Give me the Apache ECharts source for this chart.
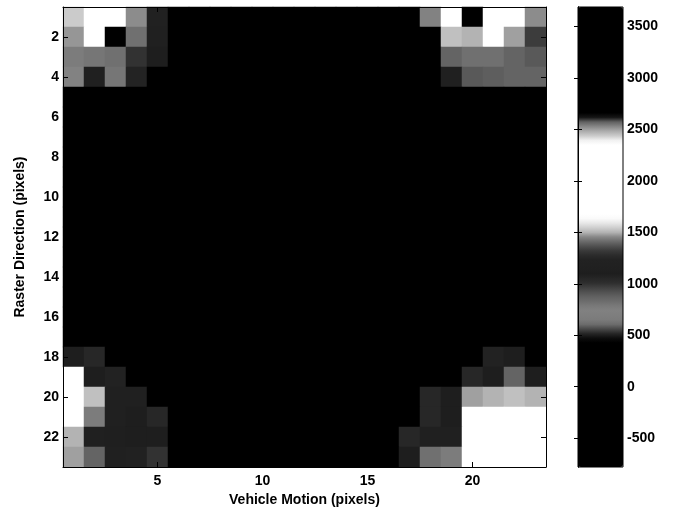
<!DOCTYPE html>
<html>
<head>
<meta charset="utf-8">
<script src="https://cdn.jsdelivr.net/npm/echarts@6/dist/echarts.min.js"></script>
<style>html,body{margin:0;padding:0;background:#fff}#c{width:678px;height:520px}</style>
</head>
<body>
<div id="c"></div>
<script>
// Categories (pixel indices)
const xCategories = ['1','2','3','4','5','6','7','8','9','10','11','12','13','14','15','16','17','18','19','20','21','22','23'];
const yCategories = ['1','2','3','4','5','6','7','8','9','10','11','12','13','14','15','16','17','18','19','20','21','22','23'];
// Colorbar ticks
const colorbarTicks = [-500, 0, 500, 1000, 1500, 2000, 2500, 3000, 3500];
const colorMin = -780;
const colorMax = 3690;
// Values, one row per raster row (row 1 at top), 23 columns each
const row1  = [1540,2000,2000,1460,1200,0,0,0,0,0,0,0,0,0,0,0,0,1450,2000,3200,2000,2000,1460];
const row2  = [1470,2000,3200,1420,1150,0,0,0,0,0,0,0,0,0,0,0,0,0,1520,1500,2000,1480,1330];
const row3  = [1440,1430,1420,1300,1100,0,0,0,0,0,0,0,0,0,0,0,0,0,1400,1420,1420,1400,1380];
const row4  = [1450,1150,1430,1250,0,0,0,0,0,0,0,0,0,0,0,0,0,0,1150,1380,1390,1400,1400];
const row5  = [0,0,0,0,0,0,0,0,0,0,0,0,0,0,0,0,0,0,0,0,0,0,0];
const row6  = [0,0,0,0,0,0,0,0,0,0,0,0,0,0,0,0,0,0,0,0,0,0,0];
const row7  = [0,0,0,0,0,0,0,0,0,0,0,0,0,0,0,0,0,0,0,0,0,0,0];
const row8  = [0,0,0,0,0,0,0,0,0,0,0,0,0,0,0,0,0,0,0,0,0,0,0];
const row9  = [0,0,0,0,0,0,0,0,0,0,0,0,0,0,0,0,0,0,0,0,0,0,0];
const row10 = [0,0,0,0,0,0,0,0,0,0,0,0,0,0,0,0,0,0,0,0,0,0,0];
const row11 = [0,0,0,0,0,0,0,0,0,0,0,0,0,0,0,0,0,0,0,0,0,0,0];
const row12 = [0,0,0,0,0,0,0,0,0,0,0,0,0,0,0,0,0,0,0,0,0,0,0];
const row13 = [0,0,0,0,0,0,0,0,0,0,0,0,0,0,0,0,0,0,0,0,0,0,0];
const row14 = [0,0,0,0,0,0,0,0,0,0,0,0,0,0,0,0,0,0,0,0,0,0,0];
const row15 = [0,0,0,0,0,0,0,0,0,0,0,0,0,0,0,0,0,0,0,0,0,0,0];
const row16 = [0,0,0,0,0,0,0,0,0,0,0,0,0,0,0,0,0,0,0,0,0,0,0];
const row17 = [0,0,0,0,0,0,0,0,0,0,0,0,0,0,0,0,0,0,0,0,0,0,0];
const row18 = [1100,1050,0,0,0,0,0,0,0,0,0,0,0,0,0,0,0,0,0,0,1080,1100,0];
const row19 = [2000,1100,1080,0,0,0,0,0,0,0,0,0,0,0,0,0,0,0,0,1050,1100,1400,1100];
const row20 = [2000,1520,1150,1150,0,0,0,0,0,0,0,0,0,0,0,0,0,1050,1100,1480,1500,1520,1500];
const row21 = [2000,1440,1150,1100,1050,0,0,0,0,0,0,0,0,0,0,0,0,1050,1100,2000,2000,2000,2000];
const row22 = [1500,1150,1120,1100,1100,0,0,0,0,0,0,0,0,0,0,0,1050,1150,1150,2000,2000,2000,2000];
const row23 = [1480,1400,1150,1200,1300,0,0,0,0,0,0,0,0,0,0,0,1100,1420,1440,2000,2000,2000,2000];
const rows = [row1,row2,row3,row4,row5,row6,row7,row8,row9,row10,row11,row12,row13,row14,row15,row16,row17,row18,row19,row20,row21,row22,row23];

// Grayscale colormap stops (value -> gray level)
const cmapStops = [[-780,0],[450,0],[520,40],[620,120],[750,130],[900,90],[1010,45],[1100,30],[1250,35],[1330,60],[1400,100],[1450,130],[1500,180],[1560,215],[1626,250],[1680,255],[2380,255],[2420,215],[2500,160],[2580,90],[2617,20],[2660,0],[3690,0]];

function grayAt(v) {
  for (let i = 0; i < cmapStops.length - 1; i++) {
    const a = cmapStops[i], b = cmapStops[i + 1];
    if (v >= a[0] && v <= b[0]) {
      const t = (v - a[0]) / (b[0] - a[0]);
      return Math.round(a[1] + t * (b[1] - a[1]));
    }
  }
  return 0;
}
const N = 600;
const cmapColors = [];
for (let i = 0; i < N; i++) {
  const v = colorMin + i * (colorMax - colorMin) / (N - 1);
  const g = grayAt(v);
  cmapColors.push('rgb(' + g + ',' + g + ',' + g + ')');
}

const data = [];
rows.forEach((r, yi) => r.forEach((v, xi) => data.push([xi, yi, v])));

const font = { fontFamily: 'Liberation Sans, Arial, sans-serif', fontWeight: 'bold', fontSize: 14, color: '#000' };
const xShow = (idx) => (idx + 1) % 5 === 0;
const yShow = (idx) => (idx + 1) % 2 === 0;

const chart = echarts.init(document.getElementById('c'), null, { renderer: 'canvas' });
chart.setOption({
  animation: false,
  backgroundColor: '#fff',
  grid: [
    { left: 63, top: 7, width: 483, height: 460, show: true, backgroundColor: '#000', borderWidth: 0 },
    { left: 578, top: 7, width: 45, height: 460, show: true, borderColor: '#000', borderWidth: 1, backgroundColor: 'transparent', z: 10 }
  ],
  xAxis: [
    { type: 'category', gridIndex: 0, data: xCategories, position: 'bottom', z: 10,
      axisLine: { show: true, lineStyle: { color: '#000', width: 1 } },
      axisTick: { show: true, inside: true, length: 5, alignWithLabel: true, interval: xShow, lineStyle: { color: '#000' } },
      axisLabel: Object.assign({ interval: xShow, margin: 7 }, font),
      splitLine: { show: false },
      name: 'Vehicle Motion (pixels)', nameLocation: 'middle', nameGap: 26, nameTextStyle: font },
    { type: 'category', gridIndex: 0, data: xCategories, position: 'top', z: 10,
      axisLine: { show: true, lineStyle: { color: '#000', width: 1 } },
      axisTick: { show: true, inside: true, length: 5, alignWithLabel: true, interval: xShow, lineStyle: { color: '#000' } },
      axisLabel: { show: false }, splitLine: { show: false } },
    { type: 'value', gridIndex: 1, show: false, min: 0, max: 1 }
  ],
  yAxis: [
    { type: 'category', gridIndex: 0, data: yCategories, inverse: true, position: 'left', z: 10,
      axisLine: { show: true, lineStyle: { color: '#000', width: 1 } },
      axisTick: { show: true, inside: true, length: 5, alignWithLabel: true, interval: yShow, lineStyle: { color: '#000' } },
      axisLabel: Object.assign({ interval: yShow, margin: 4 }, font),
      splitLine: { show: false },
      name: 'Raster Direction (pixels)', nameLocation: 'middle', nameGap: 36, nameRotate: 90, nameTextStyle: font },
    { type: 'category', gridIndex: 0, data: yCategories, inverse: true, position: 'right', z: 10,
      axisLine: { show: true, lineStyle: { color: '#000', width: 1 } },
      axisTick: { show: true, inside: true, length: 5, alignWithLabel: true, interval: yShow, lineStyle: { color: '#000' } },
      axisLabel: { show: false }, splitLine: { show: false } },
    { type: 'value', gridIndex: 1, min: colorMin, max: colorMax, position: 'right', z: 11,
      axisLine: { show: true, lineStyle: { color: '#000', width: 1 } },
      axisTick: { show: true, inside: true, length: 4, customValues: colorbarTicks, lineStyle: { color: '#000' } },
      axisLabel: Object.assign({ margin: 4, customValues: colorbarTicks, formatter: (v) => String(v) }, font),
      splitLine: { show: false } },
    { type: 'value', gridIndex: 1, min: colorMin, max: colorMax, position: 'left', z: 11,
      axisLine: { show: true, lineStyle: { color: '#000', width: 1 } },
      axisTick: { show: true, inside: true, length: 4, customValues: colorbarTicks, lineStyle: { color: '#000' } },
      axisLabel: { show: false },
      splitLine: { show: false } }
  ],
  visualMap: {
    type: 'continuous',
    seriesIndex: 0,
    min: colorMin,
    max: colorMax,
    left: 578,
    top: 7,
    itemWidth: 45,
    itemHeight: 460,
    padding: 0,
    calculable: false,
    realtime: false,
    hoverLink: false,
    text: null,
    showLabel: false,
    inRange: { color: cmapColors }
  },
  series: [{
    type: 'heatmap',
    xAxisIndex: 0,
    yAxisIndex: 0,
    data: data,
    itemStyle: { borderWidth: 0 },
    emphasis: { disabled: true },
    progressive: 0
  }]
});
</script>
</body>
</html>
